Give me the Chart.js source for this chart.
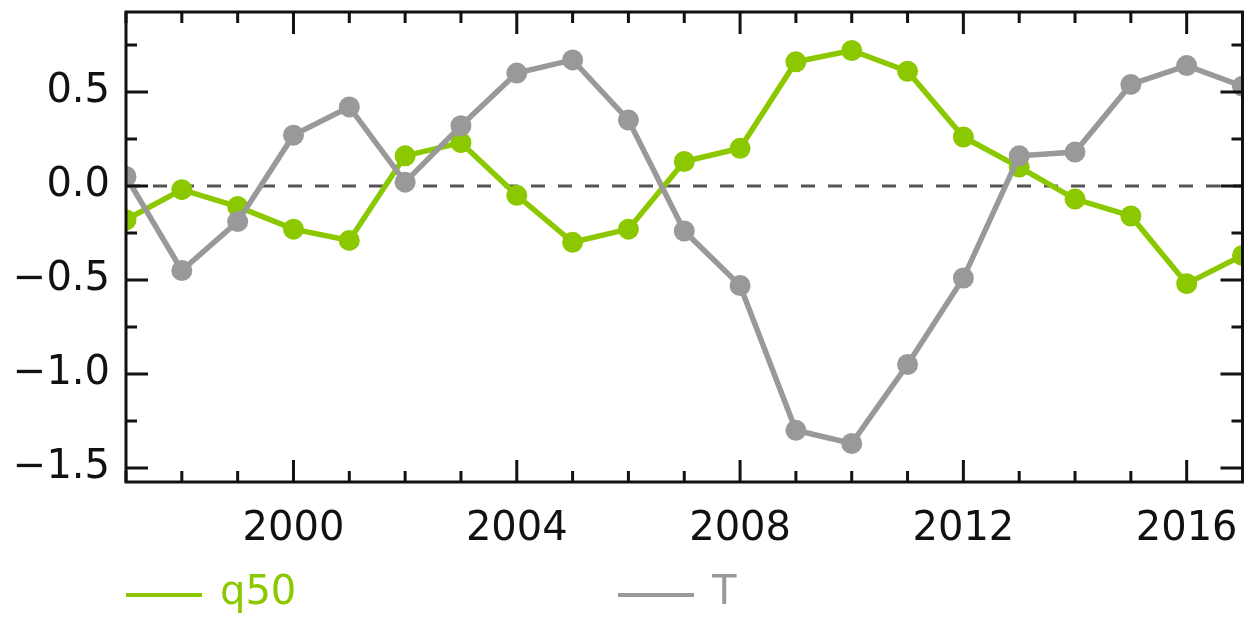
<!DOCTYPE html>
<html>
<head>
<meta charset="utf-8">
<script src="https://cdn.jsdelivr.net/npm/chart.js@4"></script>
<style>
  html, body { margin: 0; padding: 0; background: #fff; }
  #wrap { position: relative; width: 1253px; height: 619px; }
  .leg { position: absolute; top: 569px; font-family: "DejaVu Sans", sans-serif; font-size: 40px; line-height: 42px; }
  .leg span.ln { position: absolute; top: 24px; height: 4px; }
</style>
</head>
<body>
<div id="wrap">
  <canvas id="chart" width="1253" height="619"></canvas>
  <div class="leg" style="left:126px;color:#8cc800"><span class="ln" style="left:0;width:76px;background:#8cc800"></span><span style="position:absolute;left:94px">q50</span></div>
  <div class="leg" style="left:618px;color:#999"><span class="ln" style="left:0;width:76px;background:#999"></span><span style="position:absolute;left:94px">T</span></div>
</div>
<script>
var years = [1997,1998,1999,2000,2001,2002,2003,2004,2005,2006,2007,2008,2009,2010,2011,2012,2013,2014,2015,2016,2017];
var q50 = [-0.18,-0.02,-0.11,-0.23,-0.29,0.16,0.23,-0.05,-0.30,-0.23,0.13,0.20,0.66,0.72,0.61,0.26,0.10,-0.07,-0.16,-0.52,-0.37];
var T = [0.05,-0.45,-0.19,0.27,0.42,0.02,0.32,0.60,0.67,0.35,-0.24,-0.53,-1.30,-1.37,-0.95,-0.49,0.16,0.18,0.54,0.64,0.53];
var xTicks = [2000,2004,2008,2012,2016];
var yTicks = [-1.5,-1.0,-0.5,0.0,0.5];

var green = "#8cc800";
var grey = "#999999";

function pts(vals) {
  return years.map(function(y, i){ return {x: y, y: vals[i]}; });
}

function noPad(s) {
  s.paddingTop = 0; s.paddingBottom = 0; s.paddingLeft = 0; s.paddingRight = 0;
}

// frame, inward ticks, zero line
var framePlugin = {
  id: "frame",
  beforeDatasetsDraw: function(chart) {
    var ctx = chart.ctx, a = chart.chartArea;
    var ys = chart.scales.y;
    ctx.save();
    ctx.strokeStyle = "#555";
    ctx.lineWidth = 3;
    ctx.setLineDash([14, 13]);
    var y0 = ys.getPixelForValue(0);
    ctx.beginPath(); ctx.moveTo(a.left, y0); ctx.lineTo(a.right, y0); ctx.stroke();
    ctx.restore();
  },
  afterDraw: function(chart) {
    var ctx = chart.ctx, a = chart.chartArea;
    var xs = chart.scales.x, ys = chart.scales.y;
    ctx.save();
    ctx.strokeStyle = "#111";
    ctx.lineWidth = 3;
    ctx.beginPath();
    for (var yr = 1997; yr <= 2017; yr++) {
      var px = xs.getPixelForValue(yr);
      var len = (yr % 4 === 0) ? 22 : 11;
      ctx.moveTo(px, a.bottom); ctx.lineTo(px, a.bottom - len);
      ctx.moveTo(px, a.top); ctx.lineTo(px, a.top + len);
    }
    for (var v = -1.5; v <= 0.76; v += 0.25) {
      var py = ys.getPixelForValue(v);
      var major = Math.abs(v * 2 - Math.round(v * 2)) < 1e-6;
      var l = major ? 22 : 11;
      ctx.moveTo(a.left, py); ctx.lineTo(a.left + l, py);
      ctx.moveTo(a.right, py); ctx.lineTo(a.right - l, py);
    }
    ctx.stroke();
    ctx.strokeRect(a.left, a.top, a.right - a.left, a.bottom - a.top);
    ctx.restore();
  }
};

new Chart(document.getElementById("chart"), {
  type: "line",
  data: {
    datasets: [
      { label: "T", data: pts(T), borderColor: grey, backgroundColor: grey, borderWidth: 5.5,
        pointRadius: 10.5, pointBorderWidth: 0, pointBackgroundColor: grey, tension: 0 },
      { label: "q50", data: pts(q50), borderColor: green, backgroundColor: green, borderWidth: 5.5,
        pointRadius: 10.5, pointBorderWidth: 0, pointBackgroundColor: green, tension: 0 }
    ]
  },
  options: {
    responsive: false,
    animation: false,
    clip: {left: 0, right: 0, top: false, bottom: false},
    layout: { padding: { left: 0, right: 8, top: 12, bottom: 77 } },
    plugins: { legend: { display: false }, tooltip: { enabled: false } },
    scales: {
      x: {
        type: "linear", min: 1997, max: 2017,
        grid: { display: false, drawTicks: false },
        border: { display: false },
        afterBuildTicks: function(s){ s.ticks = xTicks.map(function(v){ return {value: v}; }); },
        afterFit: function(s){ s.height = 60; noPad(s); },
        ticks: { color: "#111", padding: 24, maxRotation: 0, autoSkip: false,
          font: { family: "DejaVu Sans", size: 40 },
          callback: function(v){ return String(v); } }
      },
      y: {
        min: -1.575, max: 0.925,
        grid: { display: false, drawTicks: false },
        border: { display: false },
        afterBuildTicks: function(s){ s.ticks = yTicks.map(function(v){ return {value: v}; }); },
        afterFit: function(s){ s.width = 126; noPad(s); },
        ticks: { color: "#111", padding: 16, autoSkip: false,
          font: { family: "DejaVu Sans", size: 40 },
          callback: function(v){ var t = Math.abs(v).toFixed(1); return v < -1e-9 ? "\u2212" + t : t; } }
      }
    }
  },
  plugins: [framePlugin]
});
</script>
</body>
</html>
